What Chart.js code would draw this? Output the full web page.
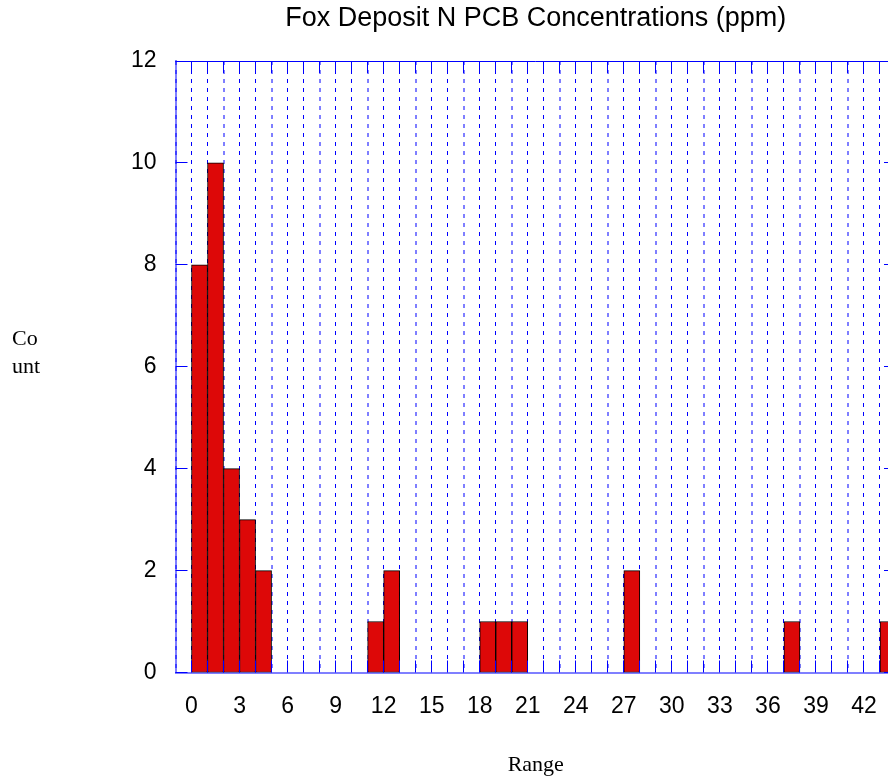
<!DOCTYPE html>
<html>
<head>
<meta charset="utf-8">
<title>Fox Deposit N PCB Concentrations</title>
<script src="https://cdn.jsdelivr.net/npm/chart.js@4.4.1/dist/chart.umd.min.js"></script>
<style>
  html, body { margin: 0; background: #fff; overflow: hidden; }
  /* the plot runs a few pixels past the right edge of the window, like the original */
  #wrap { width: 896px; height: 784px; }
</style>
</head>
<body>
<div id="wrap"><canvas id="histChart" width="896" height="784"></canvas></div>
<script>
// Histogram data: left edge of each 1 ppm bin and its count
const binStarts = [0, 1, 2, 3, 4, 5, 6, 7, 8, 9, 10, 11, 12, 13, 14, 15, 16, 17, 18, 19, 20, 21,
  22, 23, 24, 25, 26, 27, 28, 29, 30, 31, 32, 33, 34, 35, 36, 37, 38, 39, 40, 41, 42, 43];
const counts = [8, 10, 4, 3, 2, 0, 0, 0, 0, 0, 0, 1, 2, 0, 0, 0, 0, 0, 1, 1, 1, 0,
  0, 0, 0, 0, 0, 2, 0, 0, 0, 0, 0, 0, 0, 0, 0, 1, 0, 0, 0, 0, 0, 1];

// Tick labels
const xTickLabels = [0, 3, 6, 9, 12, 15, 18, 21, 24, 27, 30, 33, 36, 39, 42];
const yTickLabels = [0, 2, 4, 6, 8, 10, 12];

const BLUE = '#0000ff';
const SOFT_BLUE = 'rgba(0, 0, 255, 0.5)';
const SANS = "'Liberation Sans', Arial, sans-serif";
const SERIF = "'Liberation Serif', 'Times New Roman', serif";

// same pixel snapping Chart.js uses for 1px lines
function crisp(p) {
  return Math.round(p - 0.5) + 0.5;
}

// Draws the frame top line, inward tick marks and the "Co / unt" label
const framePlugin = {
  id: 'frame',
  afterDatasetsDraw(chart) {
    const { ctx, chartArea } = chart;
    const xs = chart.scales.x;
    const ys = chart.scales.y;
    const len = 12;
    const top = crisp(chartArea.top);

    ctx.save();
    ctx.strokeStyle = BLUE;
    ctx.lineWidth = 1;
    ctx.beginPath();
    // top line
    ctx.moveTo(chartArea.left, top);
    ctx.lineTo(chartArea.right, top);

    // x tick marks at every bin edge, bottom and top
    binStarts.forEach(v => {
      const px = crisp(xs.getPixelForValue(v));
      ctx.moveTo(px, chartArea.bottom);
      ctx.lineTo(px, chartArea.bottom - len);
      ctx.moveTo(px, chartArea.top);
      ctx.lineTo(px, chartArea.top + len);
    });

    // y tick marks, left and right
    yTickLabels.forEach(v => {
      const py = crisp(ys.getPixelForValue(v));
      ctx.moveTo(chartArea.left, py);
      ctx.lineTo(chartArea.left + len, py);
      ctx.moveTo(chartArea.right, py);
      ctx.lineTo(chartArea.right - len, py);
    });
    ctx.stroke();
    ctx.restore();
  },
  afterDraw(chart) {
    const { ctx } = chart;
    ctx.save();
    ctx.fillStyle = '#000';
    ctx.font = '22px ' + SERIF;
    ctx.textAlign = 'left';
    ctx.textBaseline = 'alphabetic';
    ctx.fillText('Co', 12, 345);
    ctx.fillText('unt', 12, 373);
    ctx.restore();
  }
};

const ctx = document.getElementById('histChart').getContext('2d');

new Chart(ctx, {
  type: 'bar',
  data: {
    datasets: [{
      label: 'Count',
      data: binStarts.map((b, i) => ({ x: b + 0.5, y: counts[i] })),
      backgroundColor: '#dd0808',
      borderColor: '#000',
      borderWidth: 1,
      borderSkipped: false,
      barPercentage: 1,
      categoryPercentage: 1
    }]
  },
  options: {
    responsive: false,
    animation: false,
    layout: { padding: 0 },
    plugins: {
      legend: { display: false },
      tooltip: { enabled: false },
      title: {
        display: true,
        text: 'Fox Deposit N PCB Concentrations (ppm)',
        fullSize: false,
        color: '#000',
        font: { family: SANS, size: 27, weight: 'normal' },
        padding: { top: 2, bottom: 26.6 }
      }
    },
    scales: {
      x: {
        type: 'linear',
        min: -1,
        max: 44,
        offset: false,
        afterFit(scale) {
          scale.height = 111.5;
          scale.paddingLeft = 0;
          scale.paddingRight = 0;
        },
        ticks: {
          stepSize: 1,
          autoSkip: false,
          maxRotation: 0,
          padding: 20,
          color: '#000',
          font: { family: SANS, size: 23 },
          callback: v => (xTickLabels.includes(v) ? String(v) : '')
        },
        // every third grid line looks softer and wider in the original
        grid: {
          color: c => (c.index % 3 === 0 ? SOFT_BLUE : BLUE),
          lineWidth: c => (c.index % 3 === 0 ? 2 : 1),
          drawTicks: false,
          offset: false
        },
        border: { display: true, color: SOFT_BLUE, width: 2, dash: [4, 5] },
        title: {
          display: true,
          text: 'Range',
          color: '#000',
          font: { family: SERIF, size: 22 },
          padding: { top: 0, bottom: 6 }
        }
      },
      y: {
        min: yTickLabels[0],
        max: yTickLabels[yTickLabels.length - 1],
        afterFit(scale) { scale.width = 175.5; },
        ticks: {
          stepSize: 2,
          padding: 19,
          color: '#000',
          font: { family: SANS, size: 23 }
        },
        grid: { display: false, drawTicks: false },
        border: { display: true, color: SOFT_BLUE, width: 2 }
      }
    }
  },
  plugins: [framePlugin]
});
</script>
</body>
</html>
